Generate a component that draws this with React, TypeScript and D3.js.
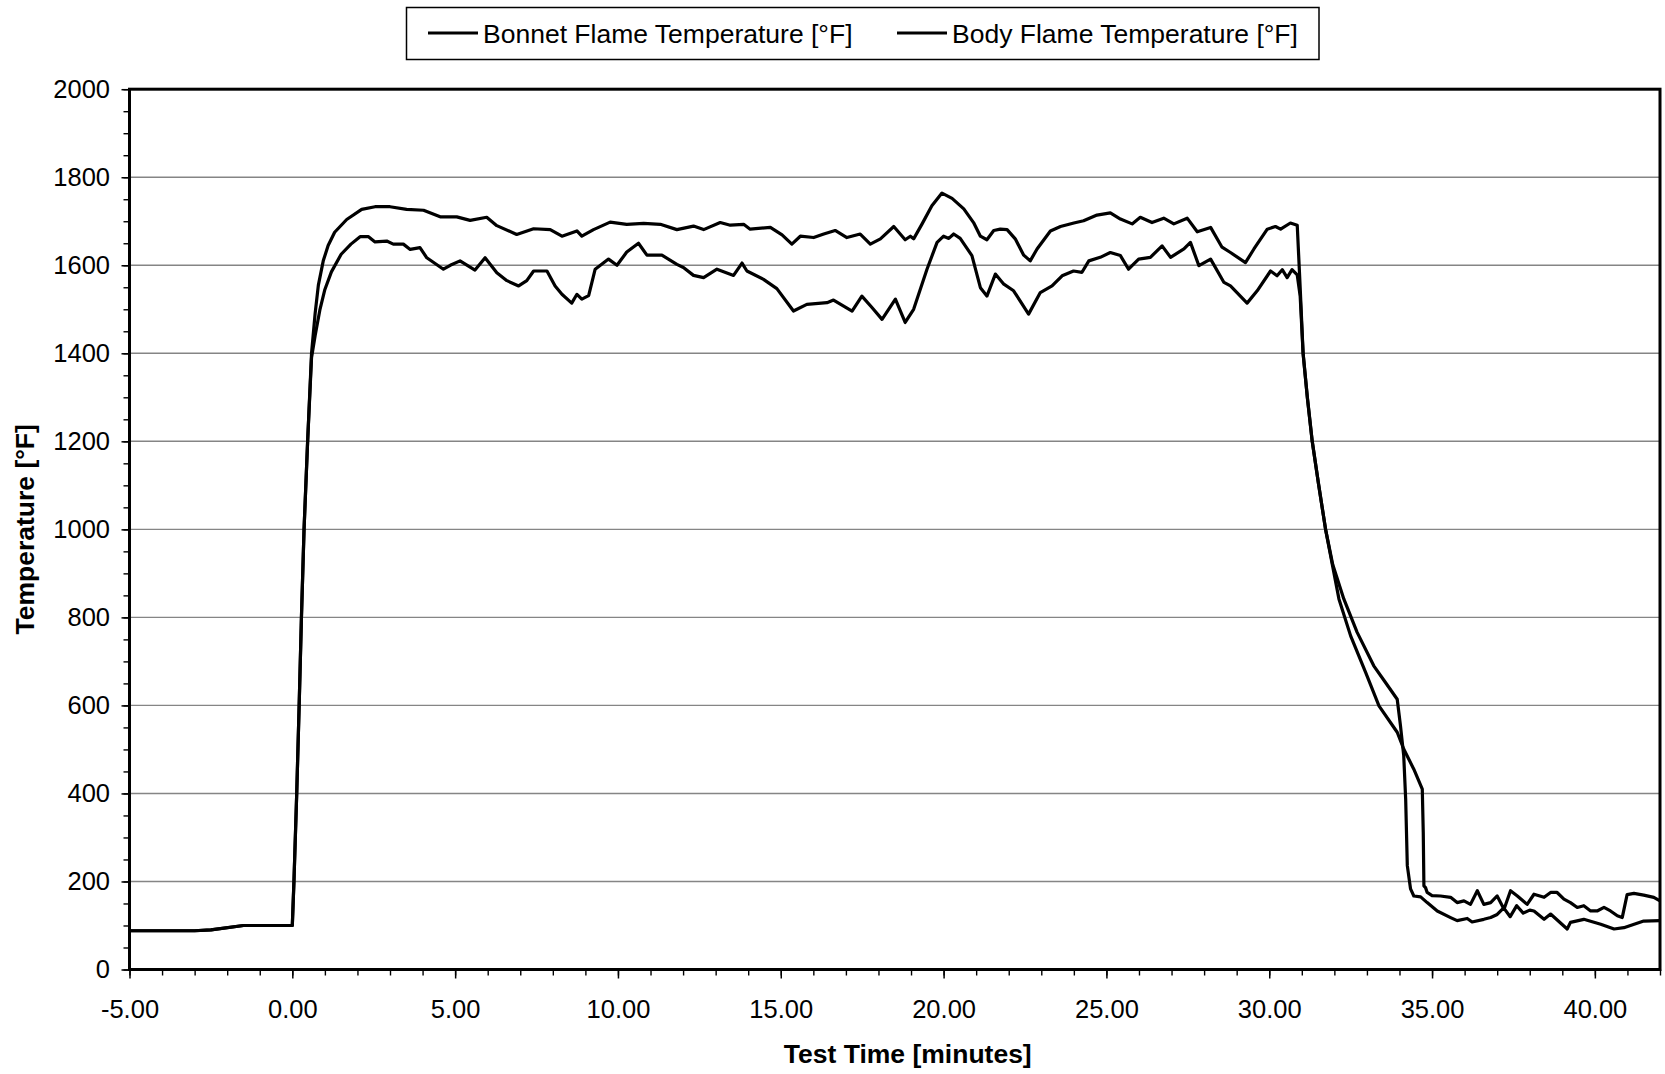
import React, { useEffect, useRef } from 'react';
import * as d3 from 'd3';

// upper curve on the plateau
const bonnetTime = [
  -5.0, -3.0, -2.5, -1.5, 0.0, 0.05, 0.135, 0.21, 0.28, 0.36, 0.47, 0.59, 0.7, 0.8, 0.95, 1.1, 1.3, 1.67,
  2.13, 2.54, 3.0, 3.51, 4.03, 4.54, 5.05, 5.46, 5.97, 6.28, 6.89, 7.41, 7.92, 8.28, 8.74, 8.89, 9.25,
  9.76, 10.27, 10.79, 11.3, 11.81, 12.32, 12.63, 13.14, 13.45, 13.86, 14.06, 14.68, 15.04, 15.34, 15.6,
  16.01, 16.32, 16.67, 17.03, 17.44, 17.75, 18.06, 18.47, 18.82, 18.98, 19.08, 19.34, 19.64, 19.95,
  20.26, 20.62, 20.92, 21.13, 21.33, 21.54, 21.74, 21.95, 22.2, 22.46, 22.66, 22.87, 23.28, 23.59, 24.0,
  24.3, 24.71, 25.12, 25.43, 25.79, 26.04, 26.4, 26.76, 27.07, 27.48, 27.79, 28.2, 28.55, 28.81, 29.27,
  29.53, 29.94, 30.19, 30.35, 30.65, 30.86, 30.95, 31.04, 31.17, 31.32, 31.52, 31.73, 31.95, 32.29, 32.7,
  33.21, 33.57, 33.93, 34.03, 34.13, 34.19, 34.24, 34.34, 34.44, 34.65, 34.85, 35.16, 35.57, 35.77, 36.08,
  36.23, 36.59, 36.8, 37.0, 37.2, 37.4, 37.6, 37.8, 38.0, 38.13, 38.44, 38.64, 39.15, 39.25, 39.66, 40.18,
  40.59, 40.89, 41.5, 42.0,
];
const bonnetTemp = [
  88, 88, 90, 100, 100, 200, 400, 600, 800, 1000, 1200, 1400, 1490, 1555, 1610, 1645, 1675, 1704,
  1727, 1733, 1733, 1727, 1725, 1710, 1710, 1702, 1709, 1690, 1670, 1683, 1681, 1666, 1678, 1666, 1681,
  1698, 1693, 1695, 1693, 1681, 1689, 1681, 1697, 1691, 1693, 1682, 1686, 1669, 1648, 1666,
  1663, 1671, 1679, 1663, 1671, 1648, 1660, 1688, 1658, 1666, 1660, 1694, 1735, 1764,
  1752, 1728, 1697, 1666, 1658, 1679, 1682, 1681, 1660, 1623, 1610, 1637, 1678, 1688, 1696,
  1701, 1714, 1719, 1705, 1694, 1709, 1697, 1707, 1694, 1707, 1676, 1686, 1641, 1629, 1606,
  1637, 1682, 1688, 1682, 1696, 1691, 1550, 1400, 1300, 1200, 1100, 1000, 920, 842, 766,
  690, 652, 614, 554, 486, 387, 236, 183, 167, 165, 152, 133, 118, 111, 116,
  108, 114, 118, 125, 140, 120, 145, 128, 135, 133, 114, 126, 92, 107, 114, 103,
  92, 95, 110, 111,
];

// lower curve on the plateau
const bodyTime = [
  -5.0, -3.0, -2.5, -1.5, 0.0, 0.05, 0.135, 0.21, 0.28, 0.36, 0.47, 0.59, 0.7, 0.85, 1.0, 1.2, 1.5, 1.8,
  2.08, 2.34, 2.54, 2.9, 3.1, 3.41, 3.62, 3.92, 4.13, 4.64, 4.85, 5.15, 5.61, 5.92, 6.28, 6.59, 6.95,
  7.2, 7.41, 7.82, 8.07, 8.28, 8.58, 8.74, 8.89, 9.1, 9.3, 9.71, 9.97, 10.27, 10.63, 10.89, 11.35,
  11.81, 12.01, 12.32, 12.63, 13.04, 13.55, 13.81, 13.96, 14.47, 14.88, 15.39, 15.8, 16.42, 16.62,
  17.19, 17.49, 17.8, 18.11, 18.52, 18.82, 19.08, 19.49, 19.8, 20.0, 20.16, 20.31, 20.51, 20.87,
  21.13, 21.33, 21.59, 21.85, 22.15, 22.61, 22.97, 23.33, 23.64, 23.99, 24.25, 24.46, 24.81, 25.12,
  25.43, 25.68, 25.99, 26.35, 26.71, 26.97, 27.38, 27.58, 27.84, 28.2, 28.61, 28.81, 29.32, 29.63,
  30.04, 30.24, 30.4, 30.55, 30.7, 30.86, 30.95, 31.04, 31.17, 31.32, 31.52, 31.73, 31.95, 32.14, 32.5,
  32.96, 33.37, 33.93, 34.13, 34.44, 34.7, 34.73, 34.75, 34.8, 34.85, 35.0, 35.26, 35.57, 35.77, 35.98,
  36.18, 36.39, 36.59, 36.8, 37.0, 37.21, 37.41, 37.62, 37.92, 38.13, 38.44, 38.64, 38.84, 39.05, 39.25,
  39.46, 39.66, 39.87, 40.07, 40.28, 40.48, 40.69, 40.84, 40.99, 41.2, 41.5, 41.81, 42.0,
];
const bodyTemp = [
  88, 88, 90, 100, 100, 200, 400, 600, 800, 1000, 1200, 1390, 1440, 1500, 1545, 1585, 1625, 1648,
  1665, 1665, 1653, 1655, 1648, 1648, 1636, 1640, 1617, 1591, 1600, 1610, 1589, 1617, 1583, 1565, 1553,
  1565, 1587, 1587, 1553, 1534, 1514, 1534, 1523, 1531, 1591, 1614, 1600, 1630, 1650, 1623, 1623,
  1602, 1595, 1577, 1572, 1591, 1577, 1605, 1587, 1568, 1547, 1496, 1511, 1515, 1521,
  1496, 1530, 1504, 1477, 1523, 1470, 1500, 1591, 1652, 1666, 1661, 1671, 1661, 1622,
  1549, 1530, 1580, 1557, 1542, 1489, 1538, 1553, 1576, 1587, 1584, 1610, 1618, 1629,
  1622, 1591, 1614, 1618, 1644, 1618, 1637, 1652, 1599, 1614, 1561, 1553, 1514, 1542,
  1587, 1576, 1590, 1572, 1590, 1578, 1530, 1400, 1300, 1200, 1100, 1000, 915, 842, 758,
  675, 599, 539, 501, 455, 410, 311, 190, 186, 175, 168, 167, 164, 152, 156,
  148, 179, 148, 152, 167, 137, 179, 167, 148, 171, 164, 175, 175, 160, 152,
  141, 145, 133, 133, 141, 133, 122, 118, 170, 173, 169, 164, 156,
];

const xTickValues = [-5, 0, 5, 10, 15, 20, 25, 30, 35, 40];
const yTickValues = [0, 200, 400, 600, 800, 1000, 1200, 1400, 1600, 1800, 2000];
const gridValues = [200, 400, 600, 800, 1000, 1200, 1400, 1600, 1800];
const legendLabels = ['Bonnet Flame Temperature [°F]', 'Body Flame Temperature [°F]'];
const xTitle = 'Test Time [minutes]';
const yTitle = 'Temperature [°F]';

const W = 1665;
const H = 1074;
const margin = { top: 89.2, right: 5, bottom: 104.5, left: 129.5 };
const FONT = '"Liberation Sans", Arial, sans-serif';

export default function App() {
  const ref = useRef<SVGSVGElement>(null);

  useEffect(() => {
    drawChart();
  }, []);

  function drawChart() {
    const root = d3.select(ref.current);
    root.selectAll('*').remove();

    const width = W - margin.left - margin.right;
    const height = H - margin.top - margin.bottom;

    const xScale = d3.scaleLinear().domain([-5, 42]).range([0, width]);
    const yScale = d3.scaleLinear().domain([0, 2000]).range([height, 0]);

    root.append('rect').attr('width', W).attr('height', H).attr('fill', '#fff');

    const svg = root.append('g').attr('transform', `translate(${margin.left},${margin.top})`);

    // grid
    svg
      .append('g')
      .selectAll('line')
      .data(gridValues)
      .join('line')
      .attr('x1', 0)
      .attr('x2', width)
      .attr('y1', d => yScale(d))
      .attr('y2', d => yScale(d))
      .attr('stroke', '#858585')
      .attr('stroke-width', 1.4);

    // minor ticks
    const yMinor = svg
      .append('g')
      .call(d3.axisLeft(yScale).tickValues(d3.range(0, 2001, 50)).tickSize(6).tickFormat(() => ''));
    const xMinor = svg
      .append('g')
      .attr('transform', `translate(0,${height})`)
      .call(d3.axisBottom(xScale).tickValues(d3.range(-5, 43, 1)).tickSize(6).tickFormat(() => ''));
    [yMinor, xMinor].forEach(g => {
      g.select('.domain').remove();
      g.selectAll('line').attr('stroke', '#000').attr('stroke-width', 1.4);
    });

    // major ticks + labels (plain hyphen for negatives, like the original)
    const yAxis = svg
      .append('g')
      .call(d3.axisLeft(yScale).tickValues(yTickValues).tickSize(8).tickPadding(11.5).tickFormat(d => String(d)));
    const xAxis = svg
      .append('g')
      .attr('transform', `translate(0,${height})`)
      .call(
        d3.axisBottom(xScale).tickValues(xTickValues).tickSize(9).tickPadding(21)
          .tickFormat(d => (+d).toFixed(2))
      );
    [yAxis, xAxis].forEach(g => {
      g.select('.domain').remove();
      g.selectAll('line').attr('stroke', '#000').attr('stroke-width', 1.5);
      g.selectAll('text').attr('fill', '#000').style('font-family', FONT).style('font-size', '25.5px');
    });

    const series = [
      bonnetTime.map((t, i) => [xScale(t), yScale(bonnetTemp[i])]),
      bodyTime.map((t, i) => [xScale(t), yScale(bodyTemp[i])]),
    ];
    series.forEach(pts => {
      svg
        .append('path')
        .datum(pts)
        .attr('fill', 'none')
        .attr('stroke', '#000')
        .attr('stroke-width', 3.2)
        .attr('stroke-linejoin', 'round')
        .attr('d', d3.line()(pts as [number, number][]));
    });

    // plot frame
    svg
      .append('rect')
      .attr('x', 0)
      .attr('y', 0)
      .attr('width', width)
      .attr('height', height)
      .attr('fill', 'none')
      .attr('stroke', '#000')
      .attr('stroke-width', 3);

    // axis titles
    root
      .append('text')
      .attr('x', margin.left + xScale(18.9))
      .attr('y', 1063)
      .attr('text-anchor', 'middle')
      .style('font-family', FONT)
      .style('font-size', '26.5px')
      .style('font-weight', 'bold')
      .text(xTitle);
    root
      .append('text')
      .attr('transform', `translate(34,${margin.top + height / 2}) rotate(-90)`)
      .attr('text-anchor', 'middle')
      .style('font-family', FONT)
      .style('font-size', '26.5px')
      .style('font-weight', 'bold')
      .text(yTitle);

    // legend
    const legend = root.append('g');
    legend
      .append('rect')
      .attr('x', 406.5)
      .attr('y', 7.5)
      .attr('width', 912.5)
      .attr('height', 52)
      .attr('fill', '#fff')
      .attr('stroke', '#000')
      .attr('stroke-width', 1.5);
    const legendX = [428, 897];
    legendLabels.forEach((label, i) => {
      legend
        .append('line')
        .attr('x1', legendX[i])
        .attr('x2', legendX[i] + 50)
        .attr('y1', 33)
        .attr('y2', 33)
        .attr('stroke', '#000')
        .attr('stroke-width', 3);
      legend
        .append('text')
        .attr('x', legendX[i] + 55)
        .attr('y', 42.5)
        .style('font-family', FONT)
        .style('font-size', '26.5px')
        .text(label);
    });
  }

  return (
    <svg
      ref={ref}
      width={W}
      height={H}
      style={{ position: 'absolute', left: 0, top: 0, display: 'block' }}
    />
  );
}
